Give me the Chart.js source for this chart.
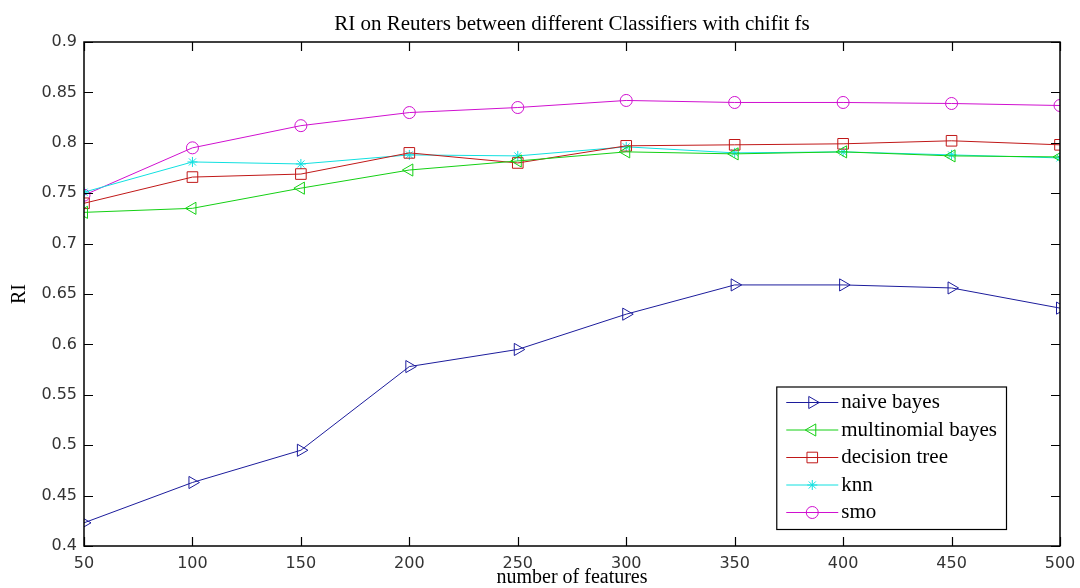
<!DOCTYPE html>
<html><head><meta charset="utf-8">
<script src="https://cdn.jsdelivr.net/npm/chart.js@4.4.1/dist/chart.umd.min.js"></script>
<style>html,body{margin:0;padding:0;background:#fff}#wrap{width:1080px;height:588px}</style>
</head><body><div id="wrap"><canvas id="c" width="1080" height="588"></canvas></div>
<script>
const features = [50,100,150,200,250,300,350,400,450,500];
const naiveBayes = [0.423,0.463,0.495,0.578,0.595,0.630,0.659,0.659,0.656,0.636];
const multinomialBayes = [0.731,0.735,0.755,0.773,0.782,0.791,0.789,0.791,0.787,0.786];
const decisionTree = [0.740,0.766,0.769,0.790,0.780,0.797,0.798,0.799,0.802,0.798];
const knn = [0.751,0.781,0.779,0.788,0.787,0.796,0.790,0.791,0.788,0.785];
const smo = [0.748,0.795,0.817,0.830,0.835,0.842,0.840,0.840,0.839,0.837];
const seriesNames = ['naive bayes','multinomial bayes','decision tree','knn','smo'];
const yTicks = [0.4,0.45,0.5,0.55,0.6,0.65,0.7,0.75,0.8,0.85,0.9];
const xTicks = [50,100,150,200,250,300,350,400,450,500];
const titleText = 'RI on Reuters between different Classifiers with chifit fs';

const styles = [
  {color:'#1c1c9c', pointStyle:'triangle', rotation:90, radius:7},
  {color:'#14d014', pointStyle:'triangle', rotation:-90, radius:7},
  {color:'#c01818', pointStyle:'rect', rotation:0, radius:7.5},
  {color:'#10e0e0', pointStyle:'star', rotation:0, radius:5},
  {color:'#d010d0', pointStyle:'circle', rotation:0, radius:6}
];
const allSeries = [naiveBayes, multinomialBayes, decisionTree, knn, smo];

const datasets = allSeries.map((vals,i)=>({
  label: seriesNames[i],
  data: features.map((f,j)=>({x:f,y:vals[j]})),
  borderColor: styles[i].color,
  backgroundColor: 'rgba(0,0,0,0)',
  borderWidth: 1,
  pointStyle: styles[i].pointStyle,
  pointRotation: styles[i].rotation,
  pointRadius: styles[i].radius,
  pointBorderWidth: 1,
  pointBorderColor: styles[i].color,
  pointBackgroundColor: 'rgba(0,0,0,0)',
  tension: 0
}));

const framePlugin = {
  id:'frame',
  afterDatasetsDraw(chart){
    const {ctx, chartArea:a, scales} = chart;
    ctx.save();
    ctx.strokeStyle = '#000';
    ctx.lineWidth = 1.5;
    ctx.strokeRect(a.left, a.top, a.right-a.left, a.bottom-a.top);
    ctx.lineWidth = 1.2;
    const tl = 9;
    ctx.beginPath();
    xTicks.forEach(v=>{
      const x = Math.round(scales.x.getPixelForValue(v))+0.5;
      ctx.moveTo(x,a.bottom); ctx.lineTo(x,a.bottom-tl);
      ctx.moveTo(x,a.top); ctx.lineTo(x,a.top+tl);
    });
    yTicks.forEach(v=>{
      const y = Math.round(scales.y.getPixelForValue(v))+0.5;
      ctx.moveTo(a.left,y); ctx.lineTo(a.left+tl,y);
      ctx.moveTo(a.right,y); ctx.lineTo(a.right-tl,y);
    });
    ctx.stroke();
    // title
    ctx.fillStyle = '#000';
    ctx.font = '21px "Liberation Serif", serif';
    ctx.textAlign = 'center';
    ctx.textBaseline = 'middle';
    ctx.fillText(titleText, (a.left+a.right)/2, a.top-18);
    // legend
    ctx.font = '21px "Liberation Serif", serif';
    let maxW = 0;
    chart.data.datasets.forEach(d=>{ maxW = Math.max(maxW, ctx.measureText(d.label).width); });
    const rowH = 27.5;
    const n = chart.data.datasets.length;
    const boxW = 65 + maxW + 9;
    const boxH = n*rowH + 5;
    const bx = a.right - 54 - boxW;
    const by = a.bottom - 17 - boxH;
    ctx.fillStyle = '#fff';
    ctx.fillRect(bx, by, boxW, boxH);
    ctx.strokeStyle = '#000';
    ctx.lineWidth = 1.2;
    ctx.strokeRect(bx+0.5, by+0.5, boxW, boxH);
    chart.data.datasets.forEach((d,i)=>{
      const cy = by + 16 + i*rowH;
      ctx.strokeStyle = d.borderColor;
      ctx.lineWidth = 1;
      ctx.beginPath(); ctx.moveTo(bx+10, cy); ctx.lineTo(bx+62, cy); ctx.stroke();
      ctx.fillStyle = 'rgba(0,0,0,0)';
      ctx.strokeStyle = d.borderColor;
      Chart.helpers.drawPoint(ctx, {pointStyle:d.pointStyle, rotation:d.pointRotation, radius:d.pointRadius, borderWidth:1}, bx+36, cy);
      ctx.fillStyle = '#000';
      ctx.textAlign = 'left';
      ctx.textBaseline = 'middle';
      ctx.fillText(d.label, bx+65, cy);
    });
    ctx.restore();
  }
};

new Chart(document.getElementById('c'), {
  type:'line',
  data:{datasets},
  options:{
    responsive:false,
    animation:false,
    layout:{padding:{top:42,right:20,left:0,bottom:0}},
    plugins:{legend:{display:false}, title:{display:false}, tooltip:{enabled:false}},
    scales:{
      x:{
        type:'linear', min:50, max:500,
        afterBuildTicks(s){ s.ticks = xTicks.map(v=>({value:v})); },
        afterFit(s){ s.height = 42; s.paddingLeft = 0; s.paddingRight = 0; },
        grid:{display:false, drawTicks:false},
        border:{display:false},
        ticks:{color:'#333', font:{family:'"DejaVu Sans", sans-serif', size:16}, padding:8, maxRotation:0, autoSkip:false},
        title:{display:true, text:'number of features', color:'#000', font:{family:'"Liberation Serif", serif', size:20, lineHeight:1}, padding:{top:0,bottom:0}}
      },
      y:{
        type:'linear', min:0.4, max:0.9,
        afterBuildTicks(s){ s.ticks = yTicks.map(v=>({value:v})); },
        afterFit(s){ s.width = 84; s.paddingTop = 0; s.paddingBottom = 0; },
        grid:{display:false, drawTicks:false},
        border:{display:false},
        ticks:{color:'#333', font:{family:'"DejaVu Sans", sans-serif', size:16}, padding:7, autoSkip:false,
          callback:(v)=>String(Number(v.toFixed(2)))},
        title:{display:true, text:'RI', color:'#000', font:{family:'"Liberation Serif", serif', size:20, lineHeight:1}, padding:{top:10,bottom:0}}
      }
    }
  },
  plugins:[framePlugin]
});
</script>
</body></html>
